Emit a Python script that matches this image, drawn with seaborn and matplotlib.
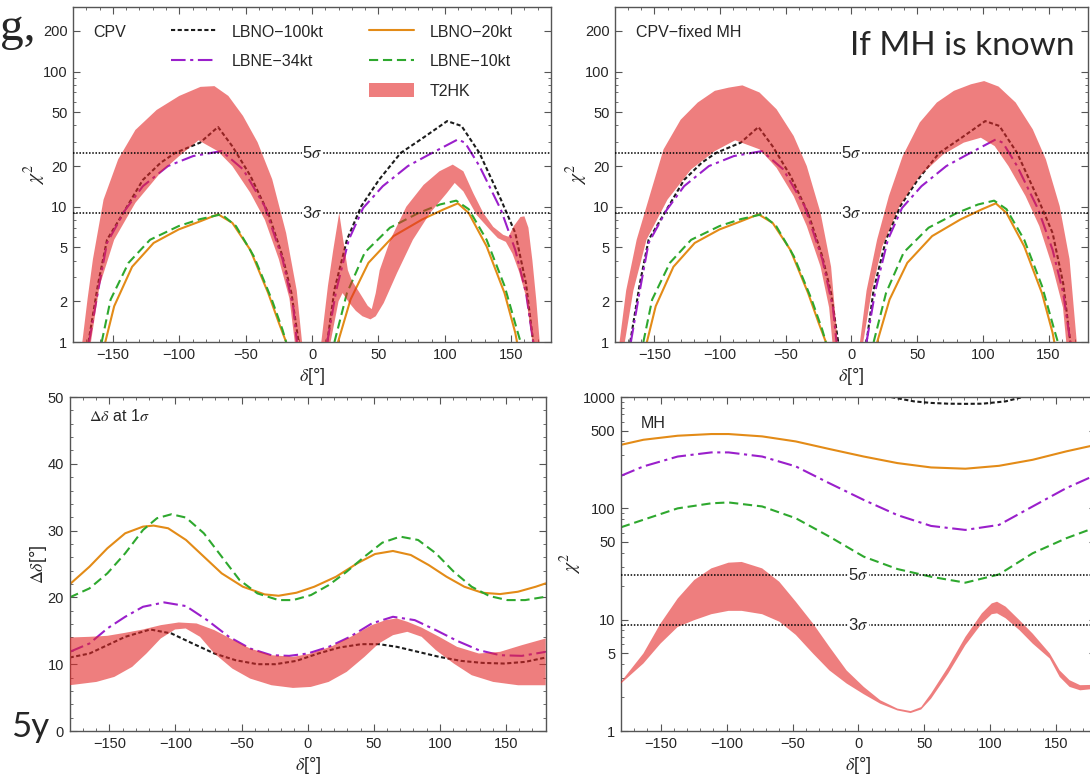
import numpy as np
import matplotlib
matplotlib.use("Agg")
import matplotlib.pyplot as plt
import seaborn as sns
from matplotlib.lines import Line2D
from matplotlib.patches import Patch
from matplotlib.ticker import FixedLocator, FuncFormatter, MultipleLocator, NullFormatter

# ---------------- data ----------------
# CPV chi^2 curves (same in both top panels), left and right lobes
lbno100_l_x = [-168.4, -161.1, -154.4, -142.2, -127.4, -113.9, -103.1, -84.3, -70.8, -60, -46.5, -33, -22.2, -15.5, -10.1]
lbno100_l_y = [1, 2.7, 5.7, 9, 15.8, 21.2, 25, 29.8, 38.9, 28, 17, 9, 4.3, 2.3, 1]
lbno100_r_x = [11.5, 16.9, 26.3, 37.1, 50.6, 66.8, 83, 101.8, 112.6, 126.1, 142.3, 153.1, 161.2, 166.6]
lbno100_r_y = [1, 2.44, 5.7, 10.1, 15.9, 25, 32, 43, 39.6, 25, 11.3, 6.4, 2.7, 1]

lbne34_l_x = [-167.9, -161.1, -154.4, -140.9, -127.4, -108.5, -89.6, -68.1, -51.9, -35.7, -22.2, -14.1, -11.4]
lbne34_l_y = [1, 2.4, 5.4, 9.4, 14.2, 20, 23.7, 25.8, 18.9, 10.1, 4.1, 1.8, 1]
lbne34_r_x = [11.5, 18.2, 27.7, 38.5, 53.3, 72.2, 88.4, 109.9, 115.3, 126.1, 142.3, 153.1, 161.2, 166.6]
lbne34_r_y = [1, 2.4, 5.7, 9.8, 14.2, 20, 24.4, 31.5, 29.7, 20, 9.5, 4.8, 2.3, 1]

lbno20_l_x = [-155.7, -149, -135.5, -119.3, -100.4, -84.3, -70.8, -60, -46.5, -33, -24.9, -19.5]
lbno20_l_y = [1, 1.84, 3.6, 5.4, 6.8, 7.8, 8.8, 7.6, 4.8, 2.3, 1.38, 1]
lbno20_r_x = [19.6, 29, 42.5, 61.4, 83, 99.1, 109.9, 118, 131.5, 145, 153.1, 154.4]
lbno20_r_y = [1, 2.06, 3.85, 6.07, 8.06, 9.56, 10.6, 9.0, 5.1, 2.3, 1.17, 1]

lbne10_l_x = [-158.4, -151.7, -138.2, -122, -100.4, -84.3, -68.1, -57.3, -43.8, -30.3, -22.2, -19.5]
lbne10_l_y = [1, 2.06, 3.85, 5.7, 7.2, 8.1, 8.8, 7.2, 4.3, 2.06, 1.23, 1]
lbne10_r_x = [16.9, 26.3, 39.8, 58.7, 80.3, 96.4, 108.6, 118, 131.5, 145, 154.4, 157.1]
lbne10_r_y = [1, 2.3, 4.6, 7.0, 9.0, 10.4, 11.1, 9.6, 5.7, 2.6, 1.23, 1]

# T2HK band, CPV panel
t2hk_cpv_l_up_x = [-173, -169, -165, -157, -146, -133, -117, -100, -84, -73.5, -63, -52, -41, -30, -19.5, -11.5, -7.5]
t2hk_cpv_l_up_y = [1, 2.1, 4.1, 11.3, 22.4, 37, 52, 66, 77, 78, 66, 47, 30, 16, 6.4, 2.4, 1]
t2hk_cpv_l_lo_x = [-166.5, -160, -149, -133, -114, -100, -85.5, -71, -60, -46.5, -35.5, -25, -17, -13]
t2hk_cpv_l_lo_y = [1, 2.6, 5.7, 10.7, 17.9, 23.7, 31, 25.8, 20, 12.7, 8.0, 4.1, 2.1, 1]
t2hk_cpv_r_up_x = [7, 12, 16, 20.5, 23.5, 27, 30, 36, 42, 45, 48, 51, 59, 71, 84, 96, 106, 114, 121.5, 129,
                   136.5, 144, 148, 152, 157, 160, 163, 166, 169, 171.5]
t2hk_cpv_r_up_y = [1, 2.6, 4.8, 9.0, 5.7, 3.4, 2.85, 2.3, 1.85, 1.75, 2.3, 3.4, 5.7, 10, 14.5, 18.3, 20.5, 18.3, 12.6, 9.0,
                   7.1, 6.2, 6.0, 7.2, 8.4, 8.5, 7.0, 4.0, 2.0, 1]
t2hk_cpv_r_lo_x = [14, 20, 23, 28, 33, 38, 44, 48, 54, 64, 76, 89, 101.5, 107.5, 114, 124, 134, 140, 146, 151, 156, 161, 166]
t2hk_cpv_r_lo_y = [1, 2.0, 2.3, 1.95, 1.7, 1.55, 1.47, 1.55, 1.94, 3.23, 5.7, 9.0, 12.6, 15.0, 13.0, 8.7, 6.76, 5.86, 5.5, 4.5, 3.3, 2.2, 1]

# T2HK band, CPV with fixed MH
t2hk_fix_l_up_x = [-176.5, -171.5, -163.5, -153, -143, -130, -117, -104, -93.5, -83, -70, -57, -44, -34, -23.5, -15.5, -10.5]
t2hk_fix_l_up_y = [1, 2.4, 5.7, 12.6, 26.6, 44, 59, 72, 76, 79, 70, 52.6, 33.4, 20, 9.0, 3.6, 1]
t2hk_fix_l_lo_x = [-172.5, -166, -156, -140, -122, -104, -88.5, -70, -57, -44, -34, -23.5, -17, -14.5]
t2hk_fix_l_lo_y = [1, 2.4, 5.7, 11.3, 18.9, 25.8, 31, 26.6, 19.4, 12, 7.2, 3.6, 1.8, 1]
t2hk_fix_r_up_x = [6.5, 11.5, 19.5, 28.5, 39, 52, 65, 78, 91, 101, 112, 125, 138, 148, 158.5, 166, 171.5]
t2hk_fix_r_up_y = [1, 2.4, 5.7, 12, 23.7, 42, 59, 72, 80.5, 85, 77.4, 59, 37.4, 22.4, 10.1, 4.1, 1]
t2hk_fix_r_lo_x = [9, 15.5, 23.5, 36.5, 52, 70, 85.5, 98.5, 109, 119.5, 132.5, 143, 153, 161, 163.5]
t2hk_fix_r_lo_y = [1, 2.4, 5.1, 10.1, 16.9, 24.4, 29.8, 32.4, 28.1, 20, 12, 7.2, 3.6, 1.8, 1]

# delta-delta at 1 sigma
dd_lbno20_x = [-180, -165, -151.5, -138, -124.5, -116.5, -105.5, -92, -78.5, -65, -49, -32.5, -22, -8.5, 5, 21.5,
               37.5, 51, 64.5, 78, 91.5, 105, 118.5, 132, 145.5, 159, 172.5, 180]
dd_lbno20_y = [21.95, 24.6, 27.35, 29.6, 30.6, 30.75, 30.35, 28.6, 26.1, 23.6, 21.6, 20.45, 20.25, 20.7, 21.6, 23.1,
               25.1, 26.5, 26.95, 26.35, 24.85, 23.1, 21.6, 20.7, 20.5, 20.85, 21.6, 22.1]
dd_lbne10_x = [-180, -165, -151.5, -138, -124.5, -114, -103, -92, -78.5, -65, -51.5, -38, -22, -11, 2.5, 16, 29.5,
               43, 56.5, 70, 83.5, 97, 110.5, 124, 137.5, 151, 164.5, 180]
dd_lbne10_y = [20, 21.35, 23.6, 26.6, 30.1, 31.85, 32.45, 31.95, 29.6, 26.1, 22.6, 20.6, 19.6, 19.6, 20.35, 21.85, 23.85,
               26.1, 28.2, 29.1, 28.6, 26.6, 23.85, 21.6, 20.2, 19.6, 19.6, 20.1]
dd_lbne34_x = [-180, -165, -151.5, -138, -124.5, -108.5, -92, -76, -59.5, -43.5, -27.5, -14, 0, 16, 32, 48.5, 64.5,
               81, 97, 113, 129.5, 145.5, 162, 180]
dd_lbne34_y = [11.85, 13.1, 15.35, 17.1, 18.6, 19.25, 18.7, 16.6, 14.1, 12.35, 11.35, 11.25, 11.6, 12.6, 14.1, 16.1, 17.1,
               16.6, 15.1, 13.5, 12.1, 11.35, 11.25, 11.85]
dd_lbno100_x = [-180, -165, -151.5, -138, -119, -103, -87, -70.5, -54.5, -38, -24.5, -8.5, 8, 24, 40.5, 54, 67.5,
                83.5, 99.5, 116, 132, 148.5, 164.5, 180]
dd_lbno100_y = [11, 11.6, 12.85, 14.1, 15.2, 14.6, 13.1, 11.6, 10.6, 10, 10, 10.5, 11.6, 12.5, 13, 13, 12.6,
                11.85, 11.1, 10.5, 10.2, 10.1, 10.35, 11]
t2hk_dd_up_x = [-180, -165, -151.5, -138, -124.5, -111, -97.5, -84, -70.5, -57, -43.5, -27.5, -11, 2.5, 18.5, 35, 48.5,
                59, 67.5, 75.5, 86, 99.5, 113, 129.5, 145.5, 162, 180]
t2hk_dd_up_y = [14, 14.1, 14.25, 14.7, 15.2, 15.85, 16.25, 16.1, 15.1, 13.7, 12.35, 11.35, 11.1, 11.6, 12.7, 14.35, 15.85,
                16.6, 16.85, 16.35, 15.5, 14.1, 12.6, 11.6, 11.85, 12.85, 13.85]
t2hk_dd_lo_x = [-180, -159.7, -146.2, -132.7, -121.9, -111.1, -100.3, -92.2, -81.4, -70.5, -57, -43.5, -27.3, -11.1, 2.4,
                15.9, 29.5, 43, 53.8, 64.6, 75.4, 86.2, 97, 110.5, 124.1, 140.3, 159.2, 180]
t2hk_dd_lo_y = [6.85, 7.35, 8.1, 9.6, 11.6, 13.85, 15.2, 15.35, 14.1, 11.6, 9.35, 7.85, 6.85, 6.45, 6.6,
                7.35, 8.85, 11.1, 13.1, 14.35, 14.85, 14.1, 12.1, 10.1, 8.35, 7.35, 6.85, 6.85]

# MH chi^2
mh_x = [-180, -163, -137, -111.5, -98.5, -73, -47.5, -22, 4, 29.5, 55, 81, 106.5, 132, 157.5, 174.5, 180]
mh_lbno20_y = [372, 413, 449, 465, 465, 443, 399, 341, 292, 255, 233, 227, 241, 273, 325, 360, 372]
mh_lbne34_y = [196, 238, 292, 318, 318, 292, 238, 168, 119, 87, 69.5, 64, 71, 104, 152, 187, 196]
mh_lbne10_y = [67.6, 79, 100, 111, 113, 104, 81.5, 55.7, 36.8, 28.5, 24.3, 21.5, 25.5, 39.5, 53.9, 64, 67.6]
mh_lbno100_x = [0, 24.5, 42, 55, 68, 81, 94, 111.5, 124.5, 140]
mh_lbno100_y = [1150, 1000, 914, 885, 871, 868, 871, 914, 1000, 1150]
t2hk_mh_x = [-180, -163, -150, -137, -124.5, -111.5, -98.5, -88.5, -73, -60, -47.5, -34.5, -22, -9, 4, 16.5, 29.5,
             39.5, 47.5, 55, 68, 81, 93.5, 101, 105, 111.5, 122, 132, 145, 152.5, 160, 168, 180]
t2hk_mh_up_y = [2.76, 4.97, 9.25, 15.5, 22.7, 28.9, 32.5, 33, 28.9, 21.9, 14.5, 9.25, 5.7, 3.5, 2.49, 1.89, 1.59,
                1.51, 1.64, 2.17, 3.77, 7.0, 11.4, 14, 14.5, 13.1, 9.9, 7.5, 4.97, 3.5, 2.86, 2.58, 2.6]
t2hk_mh_lo_y = [2.67, 4.04, 6.1, 8.6, 9.9, 11.2, 12.0, 12.0, 11.2, 9.6, 7.3, 4.97, 3.5, 2.67, 2.14, 1.76, 1.53,
                1.45, 1.56, 1.95, 3.28, 5.9, 9.25, 11.2, 11.4, 10.3, 8.05, 6.1, 4.48, 3.06, 2.49, 2.32, 2.4]

sigma_levels = [25, 9]
sigma_labels = ["5", "3"]
cpv_yticks = [1, 2, 5, 10, 20, 50, 100, 200]
mh_yticks = [1, 5, 10, 50, 100, 500, 1000]

# ---------------- style ----------------
C_LBNO100 = "#1c1c1c"
C_LBNE34 = "#9a1fcb"
C_LBNO20 = "#e38b17"
C_LBNE10 = "#2ea82e"
BAND = (0.895, 0.16, 0.16)
LS_LBNO100 = (0, (2.0, 1.2))
LS_LBNE34 = (0, (7, 2.2, 1.5, 2.2))
LS_LBNE10 = (0, (4.4, 2.3))
LW = 1.5

sns.set_theme(style="ticks")
plt.rcParams["font.family"] = ["Liberation Sans", "DejaVu Sans"]
plt.rcParams["mathtext.fontset"] = "stix"

fig = plt.figure(figsize=(10.9, 7.78), dpi=100)
ax_tl = fig.add_axes([0.0670, 0.5604, 0.4385, 0.4306])
ax_tr = fig.add_axes([0.5642, 0.5604, 0.4339, 0.4306])
ax_bl = fig.add_axes([0.0639, 0.0604, 0.4367, 0.4293])
ax_br = fig.add_axes([0.5697, 0.0604, 0.4358, 0.4293])


def line(ax, x, y, color, ls):
    sns.lineplot(x=x, y=y, ax=ax, color=color, linestyle=ls, linewidth=LW,
                 estimator=None, sort=False, zorder=2)


def band(ax, xu, yu, xl, yl):
    ax.fill(np.r_[xu, xl[::-1]], np.r_[yu, yl[::-1]], color=BAND, alpha=0.6, lw=0, zorder=3)


def frame(ax):
    ax.set_xlim(-180, 180)
    ax.xaxis.set_major_locator(MultipleLocator(50))
    ax.xaxis.set_minor_locator(MultipleLocator(10))
    ax.tick_params(which="both", direction="in", top=True, right=True, color="#555555",
                   labelsize=10.5, pad=4)
    ax.tick_params(which="major", length=5, width=0.8)
    ax.tick_params(which="minor", length=2.5, width=0.6)
    for s in ax.spines.values():
        s.set_color("#555555")
        s.set_linewidth(1.0)
    ax.set_xlabel(r"$\delta$[°]", fontsize=13, labelpad=3)


def log_axis(ax, top, majors, pad):
    ax.set_yscale("log")
    ax.set_ylim(1, top)
    minors = [m * d for d in (1, 10, 100) for m in range(2, 10) if m * d not in majors and m * d <= top]
    ax.yaxis.set_major_locator(FixedLocator(majors))
    ax.yaxis.set_minor_locator(FixedLocator(minors))
    ax.yaxis.set_major_formatter(FuncFormatter(lambda v, p: f"{v:g}"))
    ax.yaxis.set_minor_formatter(NullFormatter())
    ax.set_ylabel(r"$\chi^2$", fontsize=14, labelpad=pad)


def sigma_lines(ax):
    for val, lab in zip(sigma_levels, sigma_labels):
        ax.axhline(val, color="black", lw=1.1, ls=(0, (1, 1.1)), zorder=4)
        ax.text(0, val, lab + r"$\sigma$", ha="center", va="center", fontsize=12, zorder=5,
                bbox=dict(fc="white", ec="none", pad=0.2))


# top panels: CPV
for ax in (ax_tl, ax_tr):
    line(ax, lbno100_l_x, lbno100_l_y, C_LBNO100, LS_LBNO100)
    line(ax, lbno100_r_x, lbno100_r_y, C_LBNO100, LS_LBNO100)
    line(ax, lbne34_l_x, lbne34_l_y, C_LBNE34, LS_LBNE34)
    line(ax, lbne34_r_x, lbne34_r_y, C_LBNE34, LS_LBNE34)
    line(ax, lbno20_l_x, lbno20_l_y, C_LBNO20, "-")
    line(ax, lbno20_r_x, lbno20_r_y, C_LBNO20, "-")
    line(ax, lbne10_l_x, lbne10_l_y, C_LBNE10, LS_LBNE10)
    line(ax, lbne10_r_x, lbne10_r_y, C_LBNE10, LS_LBNE10)
    frame(ax)
    log_axis(ax, 300, cpv_yticks, -4)
    sigma_lines(ax)

band(ax_tl, t2hk_cpv_l_up_x, t2hk_cpv_l_up_y, t2hk_cpv_l_lo_x, t2hk_cpv_l_lo_y)
band(ax_tl, t2hk_cpv_r_up_x, t2hk_cpv_r_up_y, t2hk_cpv_r_lo_x, t2hk_cpv_r_lo_y)
band(ax_tr, t2hk_fix_l_up_x, t2hk_fix_l_up_y, t2hk_fix_l_lo_x, t2hk_fix_l_lo_y)
band(ax_tr, t2hk_fix_r_up_x, t2hk_fix_r_up_y, t2hk_fix_r_lo_x, t2hk_fix_r_lo_y)

ax_tl.text(0.042, 0.925, "CPV", transform=ax_tl.transAxes, fontsize=11.5, va="center")
ax_tr.text(0.044, 0.925, "CPV\u2212fixed MH", transform=ax_tr.transAxes, fontsize=11.5, va="center")

# legend in the CPV panel
h1 = [Line2D([], [], color=C_LBNO100, ls=LS_LBNO100, lw=LW),
      Line2D([], [], color=C_LBNE34, ls=LS_LBNE34, lw=LW)]
h2 = [Line2D([], [], color=C_LBNO20, ls="-", lw=LW),
      Line2D([], [], color=C_LBNE10, ls=LS_LBNE10, lw=LW),
      Patch(facecolor=BAND, alpha=0.6, lw=0)]
leg_kw = dict(loc="upper left", frameon=False, fontsize=11.5, handlelength=2.8, handletextpad=1.0,
              labelspacing=0.9, borderaxespad=0, borderpad=0, handleheight=0.9)
leg1 = ax_tl.legend(h1, ["LBNO\u2212100kt", "LBNE\u221234kt"], bbox_to_anchor=(0.205, 0.948), **leg_kw)
ax_tl.add_artist(leg1)
ax_tl.legend(h2, ["LBNO\u221220kt", "LBNE\u221210kt", "T2HK"], bbox_to_anchor=(0.62, 0.948), **leg_kw)

# bottom left: delta-delta
line(ax_bl, dd_lbno20_x, dd_lbno20_y, C_LBNO20, "-")
line(ax_bl, dd_lbne10_x, dd_lbne10_y, C_LBNE10, LS_LBNE10)
line(ax_bl, dd_lbne34_x, dd_lbne34_y, C_LBNE34, LS_LBNE34)
line(ax_bl, dd_lbno100_x, dd_lbno100_y, C_LBNO100, LS_LBNO100)
band(ax_bl, t2hk_dd_up_x, t2hk_dd_up_y, t2hk_dd_lo_x, t2hk_dd_lo_y)
frame(ax_bl)
ax_bl.set_ylim(0, 50)
ax_bl.yaxis.set_major_locator(MultipleLocator(10))
ax_bl.yaxis.set_minor_locator(MultipleLocator(2))
ax_bl.set_ylabel(r"$\Delta\delta$[°]", fontsize=13, labelpad=-1)
ax_bl.text(0.041, 0.942, r"$\Delta\delta$ at 1$\sigma$", transform=ax_bl.transAxes, fontsize=11.5, va="center")

# bottom right: MH
line(ax_br, mh_lbno100_x, mh_lbno100_y, C_LBNO100, LS_LBNO100)
line(ax_br, mh_x, mh_lbno20_y, C_LBNO20, "-")
line(ax_br, mh_x, mh_lbne34_y, C_LBNE34, LS_LBNE34)
line(ax_br, mh_x, mh_lbne10_y, C_LBNE10, LS_LBNE10)
band(ax_br, t2hk_mh_x, t2hk_mh_up_y, t2hk_mh_x, t2hk_mh_lo_y)
frame(ax_br)
log_axis(ax_br, 1000, mh_yticks, -1)
sigma_lines(ax_br)
ax_br.text(0.042, 0.921, "MH", transform=ax_br.transAxes, fontsize=11.5, va="center")

# overlay annotations
fig.text(0.0, 1 - 40 / 778, "g,", family="Liberation Serif", fontsize=34, va="baseline", ha="left")
fig.text(1074 / 1090, 1 - 55 / 778, "If MH is known", family="Lato", fontsize=24, va="baseline", ha="right")
fig.text(11 / 1090, 1 - 737 / 778, "5y", family="Lato", fontsize=25, va="baseline", ha="left")

fig.savefig("out.png", dpi=100)
